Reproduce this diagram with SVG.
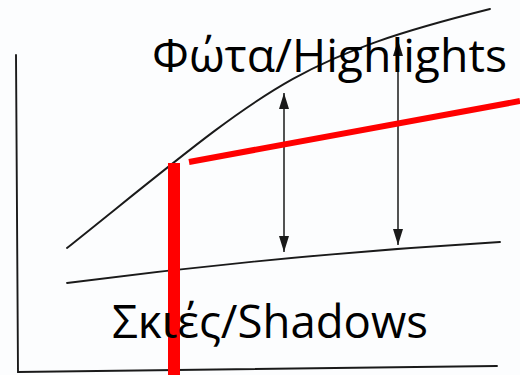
<svg xmlns="http://www.w3.org/2000/svg" width="520" height="375" viewBox="0 0 520 375">
<style>
.ink{fill:none;stroke:#1a1a1a;stroke-width:1.9;stroke-linecap:round}
.arr{fill:none;stroke:#1a1a1a;stroke-width:1.5}
.red{fill:none;stroke:#ff0000;stroke-linecap:butt}
.lbl{font-family:"Open Sans","Noto Sans","DejaVu Sans",sans-serif;font-size:45px;fill:#000}
</style>
<defs>
<marker id="ah" viewBox="0 0 16 10" refX="16" refY="5" markerWidth="16" markerHeight="10" markerUnits="userSpaceOnUse" orient="auto-start-reverse">
<path d="M0,0 L16,5 L0,10 Z" fill="#1a1a1a"/>
</marker>
</defs>
<rect width="520" height="375" fill="#fcfdfe"/>
<g id="axes">
<path class="ink" d="M16,55 L18,372 L497,366"/>
</g>
<g id="curves">
<path class="ink" d="M67,248 C267,88 290,59 490,9"/>
<path class="ink" d="M67,283 Q283,255 500,242"/>
</g>
<g id="connectors">
<line class="arr" x1="284" y1="93" x2="284" y2="252" marker-start="url(#ah)" marker-end="url(#ah)"/>
<line class="arr" x1="398" y1="40" x2="398" y2="245" marker-start="url(#ah)" marker-end="url(#ah)"/>
</g>
<g id="red-marks">
<line class="red" x1="174" y1="163" x2="174" y2="375" stroke-width="12"/>
<line class="red" x1="189" y1="162" x2="520" y2="101" stroke-width="6"/>
</g>
<g id="label-highlights">
<text class="lbl" x="152" y="72" textLength="355" lengthAdjust="spacingAndGlyphs">Φώτα/Highlights</text>
</g>
<g id="label-shadows">
<text class="lbl" x="112" y="338" textLength="316" lengthAdjust="spacingAndGlyphs">Σκιές/Shadows</text>
</g>
</svg>
